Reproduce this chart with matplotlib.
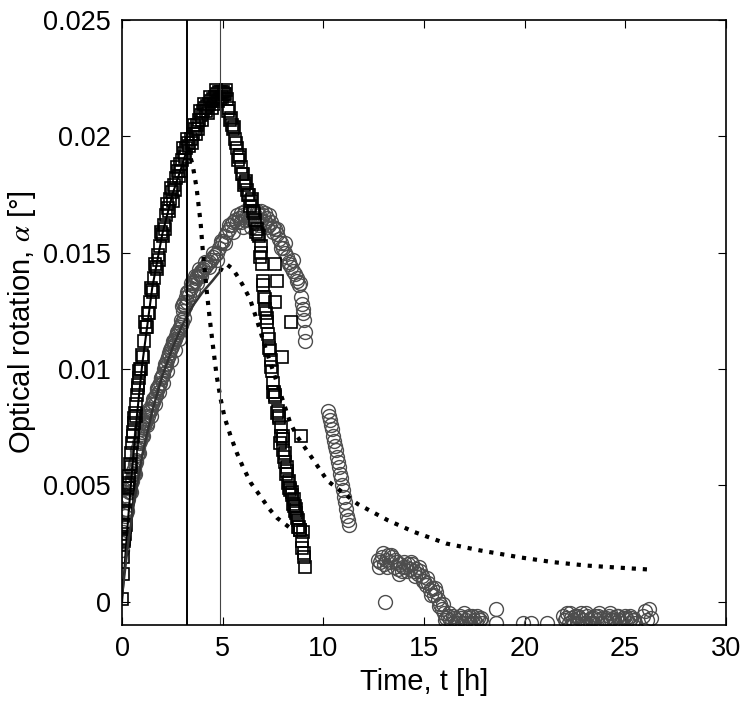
import matplotlib
matplotlib.use('Agg')
import matplotlib.pyplot as plt

plt.rcParams['font.family'] = ['Liberation Sans', 'DejaVu Sans']
plt.rcParams['mathtext.fontset'] = 'stix'

# squares series (black)
sq_t = [0.00, 0.03, 0.06, 0.10, 0.15, 0.20, 0.25, 0.30, 0.35, 0.40, 0.45, 0.50, 0.55, 0.60,
        0.65, 0.70, 0.75, 0.80, 0.85, 0.90, 1.00, 1.10, 1.20, 1.30, 1.40, 1.50, 1.60, 1.70,
        1.80, 1.90, 2.00, 2.10, 2.20, 2.30, 2.40, 2.50, 2.60, 2.70, 2.80, 2.90, 3.00, 3.10,
        3.20, 3.30, 3.40, 3.50, 3.60, 3.70, 3.80, 3.90, 4.00, 4.10, 4.20, 4.30, 4.40, 4.50,
        4.60, 4.70, 4.80, 4.90, 5.00, 5.10, 5.20, 5.30, 5.40, 5.50, 5.60, 5.70, 5.80, 5.90,
        6.00, 6.10, 6.20, 6.30, 6.40, 6.50, 6.60, 6.70, 6.80, 6.90, 6.95, 7.00, 7.10, 7.20,
        7.30, 7.35, 7.45, 7.50, 7.60, 7.75, 7.90, 8.00, 8.10, 8.20, 8.30, 8.35, 8.50, 8.60,
        8.70, 8.80, 8.95, 9.05, 9.10,
        0.12, 0.33, 0.52, 0.78, 1.05, 1.35, 1.75, 2.15, 2.55, 2.95, 3.35, 3.75, 4.15, 4.55,
        4.75, 4.95, 5.05, 5.25, 5.45, 5.65, 5.95, 6.25, 6.55, 6.75, 6.85, 7.05, 7.15, 7.25,
        7.40, 7.55, 7.60, 7.70, 7.60, 8.40, 7.95, 8.90, 7.85, 8.05, 8.15, 8.25, 8.45, 8.55,
        8.65, 8.75, 8.85, 9.00, 7.80, 8.00, 8.30, 8.60]
sq_v = [0.0001, 0.0012, 0.0019, 0.0026, 0.0032, 0.0038, 0.0044, 0.0049, 0.0054, 0.0059, 0.0064,
        0.0068, 0.0073, 0.0077, 0.0081, 0.0085, 0.0089, 0.0093, 0.0096, 0.0100, 0.0106, 0.0112,
        0.0118, 0.0124, 0.0129, 0.0134, 0.0139, 0.0144, 0.0149, 0.0153, 0.0158, 0.0162, 0.0166,
        0.0169, 0.0173, 0.0176, 0.0179, 0.0182, 0.0185, 0.0188, 0.0190, 0.0193, 0.0195, 0.0197,
        0.0199, 0.0201, 0.0203, 0.0205, 0.0207, 0.0209, 0.0211, 0.0212, 0.0213, 0.0214, 0.0215,
        0.0216, 0.0217, 0.0218, 0.0219, 0.0219, 0.0219, 0.0218, 0.0216, 0.0212, 0.0208, 0.0203,
        0.0199, 0.0195, 0.0191, 0.0187, 0.0184, 0.0180, 0.0177, 0.0175, 0.0172, 0.0168, 0.0164,
        0.0160, 0.0157, 0.0153, 0.0145, 0.0138, 0.0130, 0.0122, 0.0113, 0.0108, 0.0099, 0.0094,
        0.0089, 0.0082, 0.0075, 0.0071, 0.0064, 0.0058, 0.0052, 0.0048, 0.0042, 0.0039, 0.0036,
        0.0032, 0.0026, 0.0019, 0.0015,
        0.0029, 0.0051, 0.0071, 0.0092, 0.0105, 0.0124, 0.0143, 0.0160, 0.0172, 0.0185, 0.0196,
        0.0203, 0.0211, 0.0214, 0.0215, 0.0217, 0.0218, 0.0211, 0.0205, 0.0197, 0.0184, 0.0175,
        0.0167, 0.0158, 0.0148, 0.0131, 0.0124, 0.0115, 0.0101, 0.0090, 0.0145, 0.0138, 0.0129,
        0.0120, 0.0105, 0.0071, 0.0068, 0.0062, 0.0055, 0.0051, 0.0047, 0.0044, 0.0040, 0.0035,
        0.0031, 0.0030, 0.0080, 0.0065, 0.0049, 0.0041]
# more squares, filling out the thick bands
sq_extra_t = [0.08, 0.18, 0.27, 0.42, 0.58, 0.68, 0.83, 0.95, 1.15, 1.25, 1.45, 1.55, 1.65,
              1.85, 1.95, 2.05, 2.25, 2.35, 2.45, 2.65, 2.75, 2.85, 3.05, 3.15, 3.25, 3.45,
              3.55, 3.65, 3.85, 3.95, 4.05, 4.25, 4.35, 4.45, 4.65, 4.85, 5.15, 5.35, 5.55,
              5.75, 5.85, 6.05, 6.15, 6.35, 6.45, 6.65,
              6.92, 7.02, 7.12, 7.22, 7.32, 7.42, 7.52, 7.62, 7.72, 7.82, 7.92, 8.02, 8.12,
              8.22, 8.32, 8.42, 8.52, 8.62, 8.72, 8.82, 8.92, 9.02]
sq_extra_v = [0.0027, 0.0033, 0.0050, 0.0058, 0.0079, 0.0080, 0.0099, 0.0100, 0.0120, 0.0118,
              0.0135, 0.0133, 0.0145, 0.0147, 0.0159, 0.0157, 0.0171, 0.0168, 0.0178, 0.0177,
              0.0187, 0.0183, 0.0195, 0.0191, 0.0199, 0.0197, 0.0205, 0.0201, 0.0211, 0.0207,
              0.0214, 0.0210, 0.0217, 0.0212, 0.0220, 0.0216, 0.0220, 0.0207, 0.0204, 0.0190,
              0.0192, 0.0179, 0.0181, 0.0170, 0.0173, 0.0159,
              0.0150, 0.0136, 0.0126, 0.0120, 0.0109, 0.0104, 0.0090, 0.0088, 0.0081, 0.0079,
              0.0071, 0.0070, 0.0060, 0.0056, 0.0049, 0.0046, 0.0041, 0.0038, 0.0032, 0.0031,
              0.0023, 0.0021]

# circles series (grey)
ci_t = [0.00, 0.00, 0.02, 0.05, 0.10, 0.15, 0.20, 0.25, 0.30, 0.35, 0.40, 0.45, 0.50, 0.55,
        0.60, 0.65, 0.70, 0.75, 0.80, 0.85, 0.90, 0.95, 1.00, 1.05, 1.10, 1.15, 1.20, 1.30,
        1.40, 1.50, 1.60, 1.70, 1.80, 1.90, 2.00, 2.10, 2.20, 2.30, 2.40, 2.50, 2.60, 2.70,
        2.80, 2.90, 3.00, 3.10, 3.00, 3.10, 3.20, 3.30, 3.40, 3.50, 3.60, 3.70, 3.80, 3.90,
        4.00, 4.20, 4.40, 4.60, 4.80, 5.00, 5.20, 5.40, 5.60, 5.80, 6.00, 6.20, 6.40, 6.60,
        6.80, 7.00, 7.20, 7.40, 7.60, 7.80, 8.00, 8.20, 8.40, 8.60, 8.80, 8.90, 9.00, 9.05,
        9.10, 9.10,
        0.08, 0.18, 0.28, 0.38, 0.48, 0.58, 0.68, 0.78, 0.88, 0.98, 1.08, 1.18, 1.25, 1.35,
        1.45, 1.55, 1.65, 1.75, 1.85, 1.95, 2.05, 2.15, 2.25, 2.35, 2.45, 2.55, 2.65, 2.75,
        2.85, 2.95, 3.05, 3.15, 3.25, 3.45, 3.65, 3.85, 4.10, 4.30, 4.50, 4.70, 4.90, 5.10,
        5.30, 5.50, 5.70, 5.90, 6.10, 6.30, 6.50, 6.70, 6.90, 7.10, 7.30, 7.50, 7.70, 7.90,
        8.10, 8.30, 8.50, 8.70, 8.95, 6.00, 6.40, 6.80, 7.20,
        10.25, 10.30, 10.35, 10.40, 10.45, 10.50, 10.55, 10.60, 10.65, 10.70, 10.75, 10.80,
        10.85, 10.90, 10.95, 11.00, 11.05, 11.10, 11.15, 11.20, 11.25, 11.30,
        12.70, 12.80, 12.90, 13.00, 13.10, 13.20, 13.30, 13.40, 13.50, 13.60, 13.70, 13.80,
        13.90, 14.00, 14.10, 14.20, 14.30, 14.40, 14.50, 14.60, 14.70, 14.80, 14.90, 15.00,
        15.10, 15.20, 15.30, 15.40, 15.50, 15.60, 15.70, 15.80, 15.90, 16.00, 16.10, 16.20,
        16.30, 16.40, 16.50, 16.60, 16.70, 16.80, 16.90, 17.00, 17.10, 17.20, 17.30, 17.40,
        17.50, 17.60, 17.70, 17.80, 17.90, 13.05, 18.60, 18.60, 19.90, 20.30, 21.10,
        21.90, 22.00, 22.10, 22.20, 22.30, 22.40, 22.50, 22.60, 22.70, 22.80, 22.90, 23.00,
        23.10, 23.20, 23.30, 23.40, 23.50, 23.60, 23.70, 23.80, 23.90, 24.00, 24.10, 24.20,
        24.30, 24.40, 24.50, 24.60, 24.70, 24.80, 24.90, 25.00, 25.10, 25.20, 25.30, 25.40,
        25.50, 25.90, 26.00, 26.10, 26.20, 26.30]
ci_v = [0.0022, 0.0028, 0.0025, 0.0030, 0.0034, 0.0037, 0.0040, 0.0043, 0.0045, 0.0047, 0.0049,
        0.0051, 0.0053, 0.0055, 0.0057, 0.0059, 0.0061, 0.0063, 0.0066, 0.0068, 0.0070, 0.0072,
        0.0073, 0.0075, 0.0076, 0.0077, 0.0078, 0.0080, 0.0082, 0.0085, 0.0087, 0.0089, 0.0092,
        0.0094, 0.0097, 0.0100, 0.0102, 0.0105, 0.0108, 0.0110, 0.0112, 0.0114, 0.0116, 0.0118,
        0.0120, 0.0122, 0.0127, 0.0129, 0.0131, 0.0133, 0.0135, 0.0137, 0.0138, 0.0140, 0.0141,
        0.0142, 0.0143, 0.0145, 0.0147, 0.0149, 0.0152, 0.0155, 0.0159, 0.0162, 0.0164, 0.0165,
        0.0166, 0.0166, 0.0165, 0.0166, 0.0166, 0.0166, 0.0165, 0.0163, 0.0160, 0.0156, 0.0152,
        0.0148, 0.0144, 0.0141, 0.0136, 0.0131, 0.0126, 0.0121, 0.0116, 0.0112,
        0.0033, 0.0038, 0.0044, 0.0047, 0.0052, 0.0055, 0.0060, 0.0064, 0.0069, 0.0071, 0.0077,
        0.0079, 0.0077, 0.0082, 0.0083, 0.0086, 0.0088, 0.0091, 0.0093, 0.0096, 0.0098, 0.0101,
        0.0104, 0.0107, 0.0109, 0.0111, 0.0113, 0.0115, 0.0117, 0.0119, 0.0125, 0.0127, 0.0129,
        0.0136, 0.0139, 0.0141, 0.0144, 0.0146, 0.0148, 0.0150, 0.0154, 0.0157, 0.0160, 0.0163,
        0.0163, 0.0167, 0.0164, 0.0167, 0.0163, 0.0168, 0.0164, 0.0167, 0.0162, 0.0161, 0.0158,
        0.0154, 0.0150, 0.0146, 0.0142, 0.0139, 0.0128, 0.0161, 0.0161, 0.0162, 0.0161,
        0.0082, 0.0080, 0.0078, 0.0076, 0.0074, 0.0071, 0.0069, 0.0067, 0.0065, 0.0062, 0.0060,
        0.0058, 0.0055, 0.0053, 0.0050, 0.0048, 0.0045, 0.0043, 0.0040, 0.0037, 0.0035, 0.0033,
        0.0018, 0.0017, 0.0019, 0.0016, 0.0018, 0.0020, 0.0017, 0.0019, 0.0015, 0.0017, 0.0014,
        0.0016, 0.0013, 0.0017, 0.0015, 0.0016, 0.0014, 0.0016, 0.0013, 0.0014, 0.0012, 0.0013,
        0.0011, 0.0009, 0.0007, 0.0008, 0.0005, 0.0006, 0.0003, 0.0004, 0.0001, -0.0001, -0.0003,
        -0.0005, -0.0007, -0.0006, -0.0008, -0.0009, -0.0007, -0.0009, -0.0008, -0.0006, -0.0009,
        -0.0005, -0.0008, -0.0007, -0.0009, -0.0006, -0.0008, -0.0009, -0.0007, -0.0008, -0.0009,
        0.0000, -0.0003, -0.0009, -0.0009, -0.0009, -0.0009,
        -0.0006, -0.0008, -0.0005, -0.0009, -0.0007, -0.0008, -0.0006, -0.0009, -0.0007, -0.0005,
        -0.0008, -0.0009, -0.0006, -0.0008, -0.0007, -0.0009, -0.0006, -0.0008, -0.0005, -0.0009,
        -0.0007, -0.0008, -0.0009, -0.0006, -0.0008, -0.0007, -0.0009, -0.0006, -0.0008, -0.0009,
        -0.0007, -0.0006, -0.0008, -0.0009, -0.0007, -0.0008, -0.0009, -0.0006, -0.0004, -0.0008,
        -0.0003, -0.0007]
# more circles, filling out the thick bands
ci_extra_t = [0.03, 0.13, 0.23, 0.33, 0.43, 0.53, 0.63, 0.73, 0.83, 0.93, 1.03, 1.13, 1.23,
              1.33, 1.43, 1.53, 1.63, 1.73, 1.83, 1.93, 2.03, 2.13, 2.23, 2.33, 2.43, 2.53,
              2.63, 2.73, 2.83, 2.93, 3.03, 3.13, 3.23, 3.33, 3.43, 3.53, 3.63, 3.73, 3.83,
              3.93, 4.10, 4.30, 4.50, 4.70, 4.90, 5.10, 5.30, 5.50, 5.70, 5.90, 6.10, 6.30,
              6.50, 6.70, 6.90, 7.10, 7.30, 7.50, 7.70, 7.90, 8.10, 8.30, 8.50, 8.70, 8.85,
              9.00,
              12.75, 12.95, 13.15, 13.35, 13.55, 13.75, 13.95, 14.15, 14.35, 14.55, 14.75,
              14.95, 15.15, 15.35, 15.55, 15.75, 15.95, 16.05, 16.25, 16.45, 16.65, 16.85,
              17.05, 17.25, 17.45, 17.65, 17.85, 22.05, 22.25, 22.45, 22.65, 22.85, 23.05,
              23.25, 23.45, 23.65, 23.85, 24.05, 24.25, 24.45, 24.65, 24.85, 25.05, 25.25,
              25.45]
ci_extra_v = [0.0026, 0.0039, 0.0039, 0.0049, 0.0047, 0.0056, 0.0055, 0.0065, 0.0064, 0.0074,
              0.0071, 0.0080, 0.0076, 0.0083, 0.0080, 0.0087, 0.0085, 0.0092, 0.0090, 0.0096,
              0.0094, 0.0102, 0.0099, 0.0106, 0.0104, 0.0112, 0.0108, 0.0116, 0.0113, 0.0121,
              0.0128, 0.0127, 0.0133, 0.0132, 0.0137, 0.0134, 0.0140, 0.0137, 0.0143, 0.0140,
              0.0146, 0.0144, 0.0150, 0.0147, 0.0155, 0.0154, 0.0162, 0.0159, 0.0166, 0.0163,
              0.0168, 0.0164, 0.0168, 0.0164, 0.0168, 0.0163, 0.0166, 0.0159, 0.0160, 0.0152,
              0.0154, 0.0145, 0.0147, 0.0138, 0.0137, 0.0124,
              0.0015, 0.0021, 0.0015, 0.0020, 0.0018, 0.0012, 0.0015, 0.0013, 0.0017, 0.0011,
              0.0015, 0.0009, 0.0010, 0.0003, 0.0006, -0.0002, -0.0001, -0.0008, -0.0005,
              -0.0006, -0.0009, -0.0007, -0.0009, -0.0006, -0.0009, -0.0006, -0.0007, -0.0007,
              -0.0005, -0.0009, -0.0006, -0.0008, -0.0005, -0.0009, -0.0007, -0.0006, -0.0009,
              -0.0007, -0.0005, -0.0008, -0.0006, -0.0009, -0.0007, -0.0006, -0.0008]

# model curves: solid = fitted window, dotted = prediction
fit1_t = [0.0, 0.25, 0.5, 0.75, 1.0, 1.5, 2.0, 2.5, 3.0, 3.25]
fit1_v = [0.0, 0.0030, 0.0057, 0.0081, 0.0102, 0.0135, 0.0158, 0.0175, 0.0188, 0.0195]
pred1_t = [3.25, 3.5, 3.7, 3.9, 4.0, 4.1, 4.2, 4.35, 4.5, 4.7, 4.9, 5.1, 5.4, 5.7, 6.0, 6.4,
           6.9, 7.3, 7.7, 8.3]
pred1_v = [0.0195, 0.0188, 0.0178, 0.0163, 0.0152, 0.0143, 0.0134, 0.0122, 0.0111, 0.0097,
           0.0087, 0.0079, 0.0071, 0.0064, 0.0058, 0.0051, 0.0045, 0.0040, 0.0036, 0.0032]
fit2_t = [0.0, 0.3, 0.6, 1.0, 1.5, 2.0, 2.5, 3.0, 3.5, 4.0, 4.5, 4.87]
fit2_v = [0.0003, 0.0025, 0.0043, 0.0063, 0.0082, 0.0097, 0.0109, 0.0119, 0.0127, 0.0133,
          0.0138, 0.0142]
pred2_t = [4.87, 5.0, 5.2, 5.5, 5.8, 6.0, 6.36, 6.7, 6.95, 7.2, 7.7, 8.35, 8.7, 9.5, 10.2,
           10.5, 11.7, 13.2, 14.5, 16.1, 17.8, 19.8, 21.4, 23.1, 24.7, 26.2]
pred2_v = [0.0142, 0.0144, 0.0145, 0.0143, 0.0139, 0.0136, 0.0130, 0.0121, 0.0114, 0.0107,
           0.0094, 0.0077, 0.0071, 0.0061, 0.0052, 0.0050, 0.0042, 0.0035, 0.0030, 0.0025,
           0.0022, 0.0019, 0.0017, 0.00155, 0.00146, 0.00138]

vlines_t = [3.23, 4.85]
yticks = [0, 0.005, 0.01, 0.015, 0.02, 0.025]
ytick_labels = ['0', '0.005', '0.01', '0.015', '0.02', '0.025']

fig = plt.figure(figsize=(7.49, 7.15), dpi=100)
ax = fig.add_axes([0.163, 0.126, 0.806, 0.846])

ax.plot(ci_t + ci_extra_t, ci_v + ci_extra_v, 'o', mfc='none', mec='#4d4d4d', mew=1.0, ms=10)
ax.plot(sq_t + sq_extra_t, sq_v + sq_extra_v, 's', mfc='none', mec='black', mew=1.2, ms=8)
ax.plot(fit1_t, fit1_v, '-', color='black', lw=1.5)
ax.plot(fit2_t, fit2_v, '-', color='#333333', lw=1.8)
ax.plot(pred1_t, pred1_v, ':', color='black', lw=3)
ax.plot(pred2_t, pred2_v, ':', color='black', lw=3)
ax.axvline(vlines_t[0], color='black', lw=1.4)
ax.axvline(vlines_t[1], color='#444444', lw=0.8)

ax.set_xlim(0, 30)
ax.set_ylim(-0.001, 0.025)
ax.set_xticks([0, 5, 10, 15, 20, 25, 30])
ax.set_yticks(yticks)
ax.set_yticklabels(ytick_labels)
ax.tick_params(direction='in', top=True, right=True, length=6, labelsize=19.5, pad=8)
for s in ax.spines.values():
    s.set_linewidth(1.2)

ax.set_xlabel('Time, t [h]', fontsize=21, labelpad=4)
ax.set_ylabel(r'Optical rotation, $\alpha$ [°]', fontsize=21, labelpad=4)

fig.savefig('out.png', dpi=100)
